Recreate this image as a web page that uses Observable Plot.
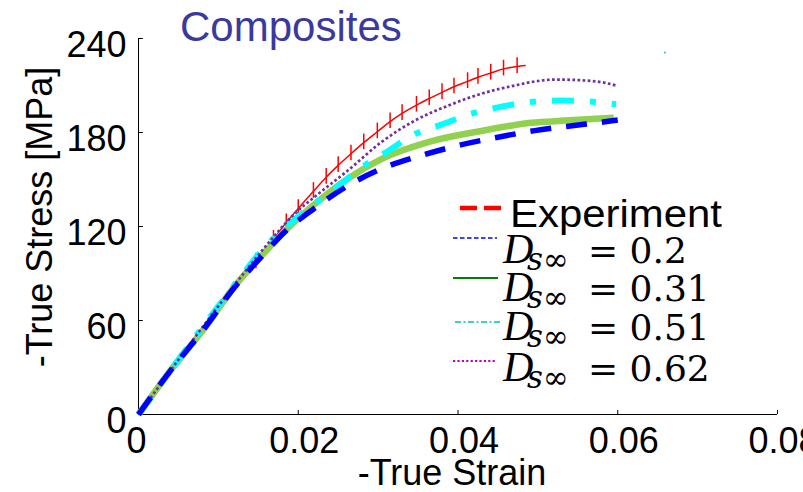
<!DOCTYPE html>
<html>
<head>
<meta charset="utf-8">
<script src="https://cdn.jsdelivr.net/npm/d3@7"></script>
<script src="https://cdn.jsdelivr.net/npm/@observablehq/plot@0.6"></script>
<style>
html, body { margin: 0; padding: 0; background: #fff; overflow: hidden; }
#chart { position: relative; width: 803px; height: 492px; }
</style>
</head>
<body>
<div id="chart"></div>
<script>
// ---------- data ----------
const titleText = "Composites";
const xLabelText = "-True Strain";
const yLabelText = "-True Stress [MPa]";
const xTicks = [0, 0.02, 0.04, 0.06, 0.08];
const xTickLabels = ["0", "0.02", "0.04", "0.06", "0.08"];
const yTicks = [0, 60, 120, 180, 240];
const yTickLabels = ["0", "60", "120", "180", "240"];

const expStrain = [0, 0.0147, 0.0169, 0.0185, 0.0200, 0.0219, 0.0235, 0.0250, 0.0266, 0.0282, 0.0299, 0.0315, 0.0330, 0.0348, 0.0364, 0.0380, 0.0395, 0.0412, 0.0425, 0.0441, 0.0457, 0.0474, 0.0484];
const expStress = [0, 97.5, 112, 122.5, 131.5, 142.5, 151.5, 159, 166.4, 173.5, 180.5, 187, 192.2, 197.5, 201.7, 205.6, 209.2, 212.6, 215.3, 218, 220.6, 222.2, 222.7];

const d02Strain = [0, 0.0037, 0.0087, 0.0116, 0.0158, 0.0183, 0.0220, 0.0262, 0.0304, 0.0354, 0.0400, 0.0450, 0.0496, 0.0538, 0.0586, 0.0600];
const d02Stress = [0, 26, 58, 78.5, 103, 116.5, 131.5, 146, 156.8, 165.3, 171.7, 177, 181.2, 184, 187, 188];

const d031Strain = [0, 0.0037, 0.0087, 0.0116, 0.0158, 0.0183, 0.0220, 0.0262, 0.0304, 0.0367, 0.0429, 0.0492, 0.0534, 0.0595];
const d031Stress = [0, 26, 58, 79, 103.5, 117, 134, 150.5, 163, 174.5, 181, 186.2, 187.6, 189.4];

const d051Strain = [0, 0.0045, 0.0099, 0.0166, 0.0187, 0.0248, 0.0283, 0.0310, 0.0346, 0.0379, 0.0417, 0.0450, 0.0490, 0.0528, 0.0565, 0.0598];
const d051Stress = [0, 31.5, 68.5, 111, 121, 145, 159, 167.4, 179, 185, 192, 196, 199.4, 200.4, 199.8, 198];

const d062Strain = [0, 0.0045, 0.0099, 0.0166, 0.0195, 0.0220, 0.0262, 0.0304, 0.0346, 0.0388, 0.0429, 0.0471, 0.0505, 0.0521, 0.0559, 0.0584, 0.0598];
const d062Stress = [0, 31.5, 68.5, 111.5, 128, 138.7, 155.7, 173.8, 187.6, 197.2, 204.7, 210, 213.2, 213.8, 213.2, 211.7, 210];

const strayStrain = [0.0659];
const strayStress = [231];

const legendLabels = ["Experiment", "0.2", "0.31", "0.51", "0.62"];

// ---------- build rows ----------
const rows = (xs, ys) => xs.map((x, i) => ({x, y: ys[i]}));
const exp = rows(expStrain, expStress);
const s02 = rows(d02Strain, d02Stress);
const s031 = rows(d031Strain, d031Stress);
const s051 = rows(d051Strain, d051Stress);
const s062 = rows(d062Strain, d062Stress);
const stray = rows(strayStrain, strayStress);
const xFmt = d => xTickLabels[xTicks.indexOf(d)];

const chart = Plot.plot({
  width: 803,
  height: 492,
  marginLeft: 138,
  marginRight: 26,
  marginTop: 38,
  marginBottom: 78,
  x: {domain: [0, 0.08]},
  y: {domain: [0, 240]},
  style: {fontFamily: "'Liberation Sans', Arial, sans-serif", background: "#fff", overflow: "visible"},
  marks: [
    // axis lines and inward ticks
    Plot.ruleY([0], {x1: 0, x2: 0.08, stroke: "#000", strokeWidth: 1}),
    Plot.ruleX([0], {y1: 0, y2: 240, stroke: "#000", strokeWidth: 1}),
    Plot.ruleX(xTicks, {x: d => d, y1: 0, y2: 2.6, stroke: "#000", strokeWidth: 1}),
    Plot.ruleY(yTicks, {y: d => d, x1: 0, x2: 0.0006, stroke: "#000", strokeWidth: 1}),
    Plot.axisX(xTicks.slice(0, 1), {tickSize: 0, tickPadding: 13, fontSize: 36, dx: -2, label: null,
      tickFormat: xFmt, fill: "#000"}),
    Plot.axisX(xTicks.slice(1), {tickSize: 0, tickPadding: 13, fontSize: 36, dx: 6, label: null,
      tickFormat: xFmt, fill: "#000"}),
    Plot.axisY(yTicks, {tickSize: 0, tickPadding: 12, fontSize: 36, dy: 7, label: null,
      tickFormat: d => yTickLabels[yTicks.indexOf(d)], fill: "#000"}),
    // experiment
    Plot.line(exp, {x: "x", y: "y", stroke: "#ff0000", strokeWidth: 1.5, curve: "monotone-x"}),
    Plot.ruleX(exp.slice(1, -1), {x: "x", y1: d => d.y - 4.5, y2: d => d.y + 5.5, stroke: "#ff0000", strokeWidth: 1.5}),
    // models
    Plot.line(s031, {x: "x", y: "y", stroke: "#92d050", strokeWidth: 6.5, curve: "monotone-x", strokeLinecap: "butt"}),
    Plot.line(s051, {x: "x", y: "y", stroke: "#00ffff", strokeWidth: 6, curve: "monotone-x", strokeLinecap: "butt", strokeDasharray: "22 16 6 16"}),
    Plot.line(s062, {x: "x", y: "y", stroke: "#7030a0", strokeWidth: 2.7, curve: "monotone-x", strokeLinecap: "butt", strokeDasharray: "2.7 2.4"}),
    Plot.line(s02, {x: "x", y: "y", stroke: "#0000ff", strokeWidth: 5.5, curve: "monotone-x", strokeLinecap: "butt", strokeDasharray: "21 15"}),
    Plot.dot(stray, {x: "x", y: "y", r: 1, fill: "#20c0c0", stroke: "none"})
  ]
});

document.getElementById("chart").appendChild(chart);

// ---------- titles & legend ----------
const svg = d3.select(chart);
const sans = "'Liberation Sans', Arial, sans-serif";

svg.append("text")
  .attr("x", 180).attr("y", 41)
  .attr("text-anchor", "start")
  .attr("font-family", sans).attr("font-size", 42)
  .attr("fill", "#3a3a9e")
  .text(titleText);

svg.append("text")
  .attr("x", 452).attr("y", 485)
  .attr("text-anchor", "middle")
  .attr("font-family", sans).attr("font-size", 36)
  .attr("fill", "#000")
  .text(xLabelText);

svg.append("text")
  .attr("transform", "translate(52,217) rotate(-90)")
  .attr("text-anchor", "middle")
  .attr("font-family", sans).attr("font-size", 36)
  .attr("fill", "#000")
  .text(yLabelText);

const lg = svg.append("g").attr("text-anchor", "start");
// Experiment entry
lg.append("line").attr("x1", 460).attr("x2", 502).attr("y1", 208).attr("y2", 208)
  .attr("stroke", "#ff0000").attr("stroke-width", 4.5).attr("stroke-dasharray", "17 7");
lg.append("text").attr("x", 510).attr("y", 227)
  .attr("text-anchor", "start")
  .attr("font-family", sans).attr("font-size", 38)
  .attr("textLength", 212).attr("lengthAdjust", "spacingAndGlyphs")
  .attr("fill", "#000")
  .text(legendLabels[0]);

const entryLayout = [
  {ly: 238, base: 263, x1: 453, x2: 497, stroke: "#0000ff", sw: 1.6, dash: "4.5 2.5"},
  {ly: 278, base: 301, x1: 453, x2: 498, stroke: "#008000", sw: 1.8, dash: null},
  {ly: 322, base: 340, x1: 455, x2: 500, stroke: "#00bfbf", sw: 1.6, dash: "6 2.5 2 2.5"},
  {ly: 361, base: 381, x1: 453, x2: 497, stroke: "#bf00bf", sw: 2.2, dash: "2.2 2.2"}
];
entryLayout.forEach((e, i) => {
  const ln = lg.append("line").attr("x1", e.x1).attr("x2", e.x2).attr("y1", e.ly).attr("y2", e.ly)
    .attr("stroke", e.stroke).attr("stroke-width", e.sw);
  if (e.dash) ln.attr("stroke-dasharray", e.dash);
  const t = lg.append("text").attr("y", e.base).attr("text-anchor", "start")
    .attr("font-family", "'DejaVu Serif', serif").attr("font-size", 36).attr("fill", "#000");
  t.append("tspan").attr("x", 503).attr("font-family", "'Liberation Serif', serif")
    .attr("font-style", "italic").attr("font-size", 42).text("D");
  t.append("tspan").attr("x", 527).attr("dy", 7).attr("font-style", "italic")
    .attr("font-size", 31).text("s\u221E");
  t.append("tspan").attr("x", 588).attr("dy", -7).text("= " + legendLabels[i + 1]);
});
</script>
</body>
</html>
